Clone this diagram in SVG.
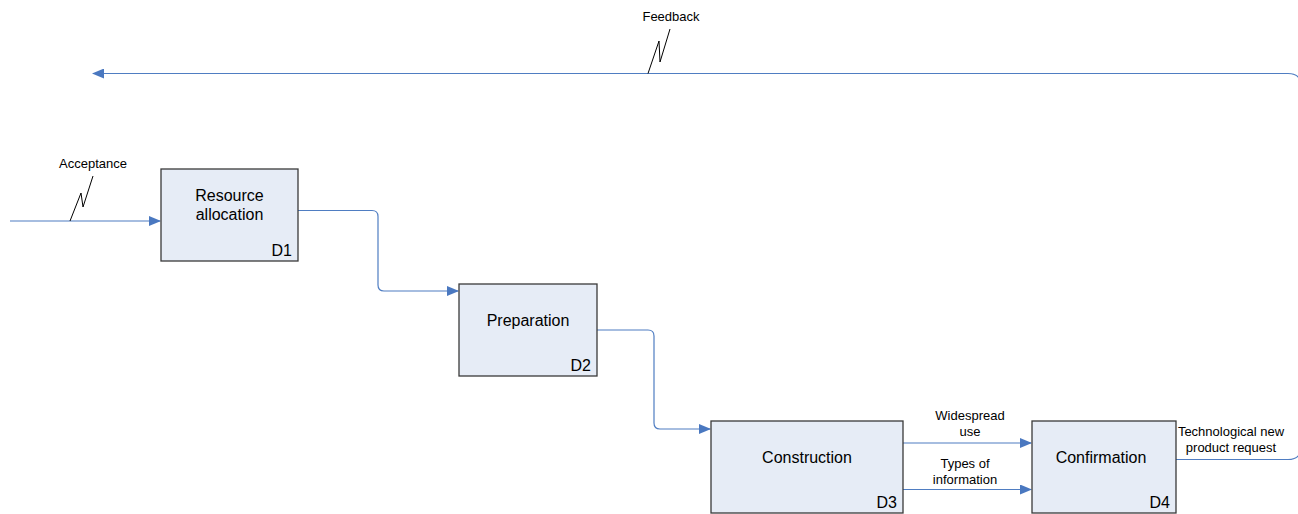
<svg xmlns="http://www.w3.org/2000/svg" width="1298" height="514" viewBox="0 0 1298 514">
  <defs>
    <marker id="arrow" markerWidth="12" markerHeight="10" refX="11" refY="5" orient="auto" markerUnits="userSpaceOnUse">
      <path d="M0,0 L12,5 L0,10 Z" fill="#4A78C0"/>
    </marker>
  </defs>
  <style>
    .box { fill: #E6ECF6; stroke: #3A3A3A; stroke-width: 1.3; }
    .title { font-family: "Liberation Sans", Arial, sans-serif; font-size: 16px; fill: #000; text-anchor: middle; }
    .tag { font-family: "Liberation Sans", Arial, sans-serif; font-size: 16px; fill: #000; text-anchor: end; }
    .lbl { font-family: "Liberation Sans", Arial, sans-serif; font-size: 13px; fill: #000; text-anchor: middle; }
    .flow { fill: none; stroke: #4F7DC2; stroke-width: 1.2; }
    .zig { fill: none; stroke: #000; stroke-width: 1; }
  </style>
  <rect width="1298" height="514" fill="#fff"/>

  <g id="connectors">
    <!-- incoming acceptance -->
    <path class="flow" d="M10,221 H160" marker-end="url(#arrow)"/>
    <!-- D1 to D2 -->
    <path class="flow" d="M298,210.5 H372 Q378,210.5 378,216.5 V285 Q378,291 384,291 H458" marker-end="url(#arrow)"/>
    <!-- D2 to D3 -->
    <path class="flow" d="M597,330 H648 Q654,330 654,336 V423 Q654,429 660,429 H710" marker-end="url(#arrow)"/>
    <!-- D3 to D4 -->
    <path class="flow" d="M903,443 H1031" marker-end="url(#arrow)"/>
    <path class="flow" d="M903,489.5 H1031" marker-end="url(#arrow)"/>
    <!-- D4 feedback loop back to the start (vertical leg runs just past the right edge) -->
    <path class="flow" d="M1176,459.5 H1288 Q1301,459.5 1301,447 V86 Q1301,73.5 1288,73.5 H93" marker-end="url(#arrow)"/>
    <!-- lightning marks for the external flows -->
    <path class="zig" d="M70,221 L81,193 L83,207 L93,176"/>
    <path class="zig" d="M648,73.5 L659,41 L660,62 L670,29"/>
  </g>

  <g id="feedback-label">
    <text class="lbl" x="671" y="21">Feedback</text>
  </g>
  <g id="acceptance-label">
    <text class="lbl" x="93" y="168">Acceptance</text>
  </g>

  <g id="d1">
    <rect class="box" x="161" y="169" width="137" height="92"/>
    <text class="title" x="229.5" y="201">Resource</text>
    <text class="title" x="229.5" y="220">allocation</text>
    <text class="tag" x="292" y="256">D1</text>
  </g>

  <g id="d2">
    <rect class="box" x="459" y="284" width="138" height="92"/>
    <text class="title" x="528" y="326">Preparation</text>
    <text class="tag" x="591" y="371">D2</text>
  </g>

  <g id="d3">
    <rect class="box" x="711" y="421" width="192" height="92"/>
    <text class="title" x="807" y="463">Construction</text>
    <text class="tag" x="897" y="508">D3</text>
  </g>

  <g id="d4">
    <rect class="box" x="1032" y="421" width="144" height="92"/>
    <text class="title" x="1101" y="463">Confirmation</text>
    <text class="tag" x="1170" y="508">D4</text>
  </g>

  <g id="flow-labels">
    <text class="lbl" x="970" y="420">Widespread</text>
    <text class="lbl" x="970" y="436">use</text>
    <text class="lbl" x="965" y="468">Types of</text>
    <text class="lbl" x="965" y="484">information</text>
    <text class="lbl" x="1231" y="436">Technological new</text>
    <text class="lbl" x="1231" y="452">product request</text>
  </g>
</svg>
